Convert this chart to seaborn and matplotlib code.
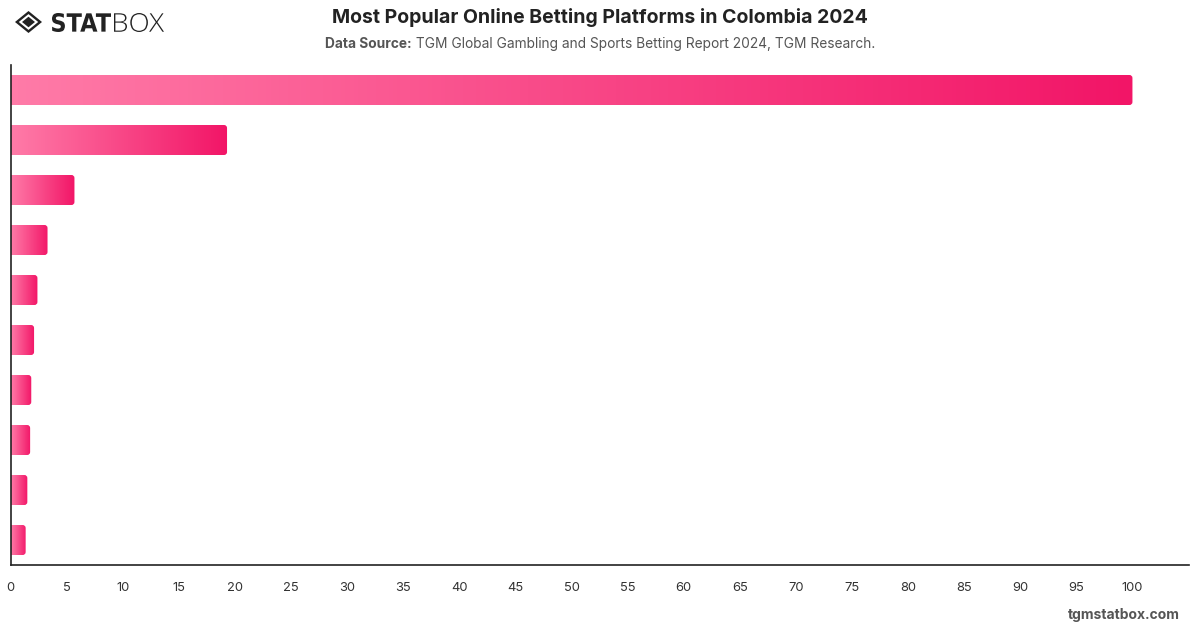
import numpy as np
import pandas as pd
import matplotlib
matplotlib.use("Agg")
import matplotlib.pyplot as plt
import seaborn as sns
from matplotlib.patches import FancyBboxPatch, Polygon, PathPatch
from matplotlib.colors import LinearSegmentedColormap
from matplotlib.textpath import TextPath
from matplotlib.font_manager import FontProperties
from matplotlib.transforms import Affine2D, IdentityTransform

# Dane (skala indeksu, lider = 100)
platforms = ["Platform 1", "Platform 2", "Platform 3", "Platform 4", "Platform 5",
             "Platform 6", "Platform 7", "Platform 8", "Platform 9", "Platform 10"]
scores = [100, 19.3, 5.7, 3.3, 2.4, 2.1, 1.85, 1.75, 1.5, 1.35]
x_ticks = list(range(0, 101, 5))

df = pd.DataFrame({"platform": platforms, "score": scores})

sns.set_theme(style="white")
plt.rcParams["font.family"] = ["Inter", "DejaVu Sans"]

W_PX, H_PX = 1200, 628
fig = plt.figure(figsize=(12, 6.28), dpi=100)
ax = fig.add_axes([0.00875, 0.1003, 0.9817, 0.7962])

sns.barplot(data=df, x="score", y="platform", orient="h", width=0.6, ax=ax, color="#f7417f")

ax.set_xlim(0, 105)
ax.set_ylim(len(platforms) - 0.5, -0.5)

# gradient na każdym słupku, zaokrąglony prawy koniec
cmap = LinearSegmentedColormap.from_list("pinkgrad", ["#ff7ba8", "#f21567"])
grad = np.linspace(0, 1, 256).reshape(1, -1)
r_x = 3 / 11.22
r_y = 3 / 50.0
for p in ax.patches:
    x0, y0 = p.get_x(), p.get_y()
    w, h = p.get_width(), p.get_height()
    p.set_visible(False)
    clip = FancyBboxPatch((x0 - 2, y0), w + 2, h,
                          boxstyle=f"round,pad=0,rounding_size={r_x}",
                          mutation_aspect=r_y / r_x,
                          transform=ax.transData, facecolor="none", edgecolor="none")
    ax.add_patch(clip)
    im = ax.imshow(grad, cmap=cmap, aspect="auto", extent=[x0, x0 + w, y0 + h, y0],
                   interpolation="bicubic", zorder=2)
    im.set_clip_path(clip)

ax.set_xticks(x_ticks)
ax.set_xticklabels([str(t) for t in x_ticks])
ax.set_yticks([])
ax.set_xlabel("")
ax.set_ylabel("")
ax.tick_params(axis="x", length=0, pad=12, labelsize=9.3, labelcolor="#333333")
for s in ["top", "right"]:
    ax.spines[s].set_visible(False)
for s in ["left", "bottom"]:
    ax.spines[s].set_color("#222222")
    ax.spines[s].set_linewidth(1.2)

# tytuły
fig.text(0.5, 0.972, "Most Popular Online Betting Platforms in Colombia 2024",
         ha="center", va="center", fontsize=14, fontweight="bold", color="#222222")

sub_bold = "Data Source:"
sub_rest = " TGM Global Gambling and Sports Betting Report 2024, TGM Research."
sub_y = 1 - 44 / H_PX
tb = fig.text(0, sub_y, sub_bold, ha="left", va="center", fontsize=9.9,
              fontweight="bold", color="#555555")
tr = fig.text(0, sub_y, sub_rest, ha="left", va="center", fontsize=9.9, color="#555555")
fig.canvas.draw()
wb = tb.get_window_extent().width
wr = tr.get_window_extent().width
start = (W_PX - (wb + wr)) / 2
tb.set_x(start / W_PX)
tr.set_x((start + wb) / W_PX)

fig.text(0.983, 0.021, "tgmstatbox.com", ha="right", va="center",
         fontsize=10, fontweight="bold", color="#555555")

# logo
cx, cy = 28.5 / W_PX, 1 - 22 / H_PX
sx, sy = 13.5 / W_PX, 11 / H_PX
for k, col in [(1.0, "#222222"), (0.72, "white"), (0.48, "#222222")]:
    fig.patches.append(Polygon([[cx - sx * k, cy], [cx, cy + sy * k], [cx + sx * k, cy], [cx, cy - sy * k]],
                               closed=True, transform=fig.transFigure,
                               facecolor=col, edgecolor="none"))


def logo_word(txt, weight, family, box):
    # box = (left, top, right, bottom) w pikselach od lewego górnego rogu
    tp = TextPath((0, 0), txt, size=1, prop=FontProperties(family=family, weight=weight))
    ext = tp.get_extents()
    l, t, r, b = box
    tr_ = (Affine2D().translate(-ext.x0, -ext.y0)
           .scale((r - l) / ext.width, (b - t) / ext.height)
           .translate(l, H_PX - b))
    fig.patches.append(PathPatch(tr_.transform_path(tp), transform=IdentityTransform(),
                                 facecolor="#222222", edgecolor="none"))


logo_word("STAT", "heavy", "DejaVu Sans", (52, 13, 111, 32))
logo_word("BOX", "light", "Open Sans", (114, 13, 164, 32))

fig.savefig("out.png", dpi=100, facecolor="white")
